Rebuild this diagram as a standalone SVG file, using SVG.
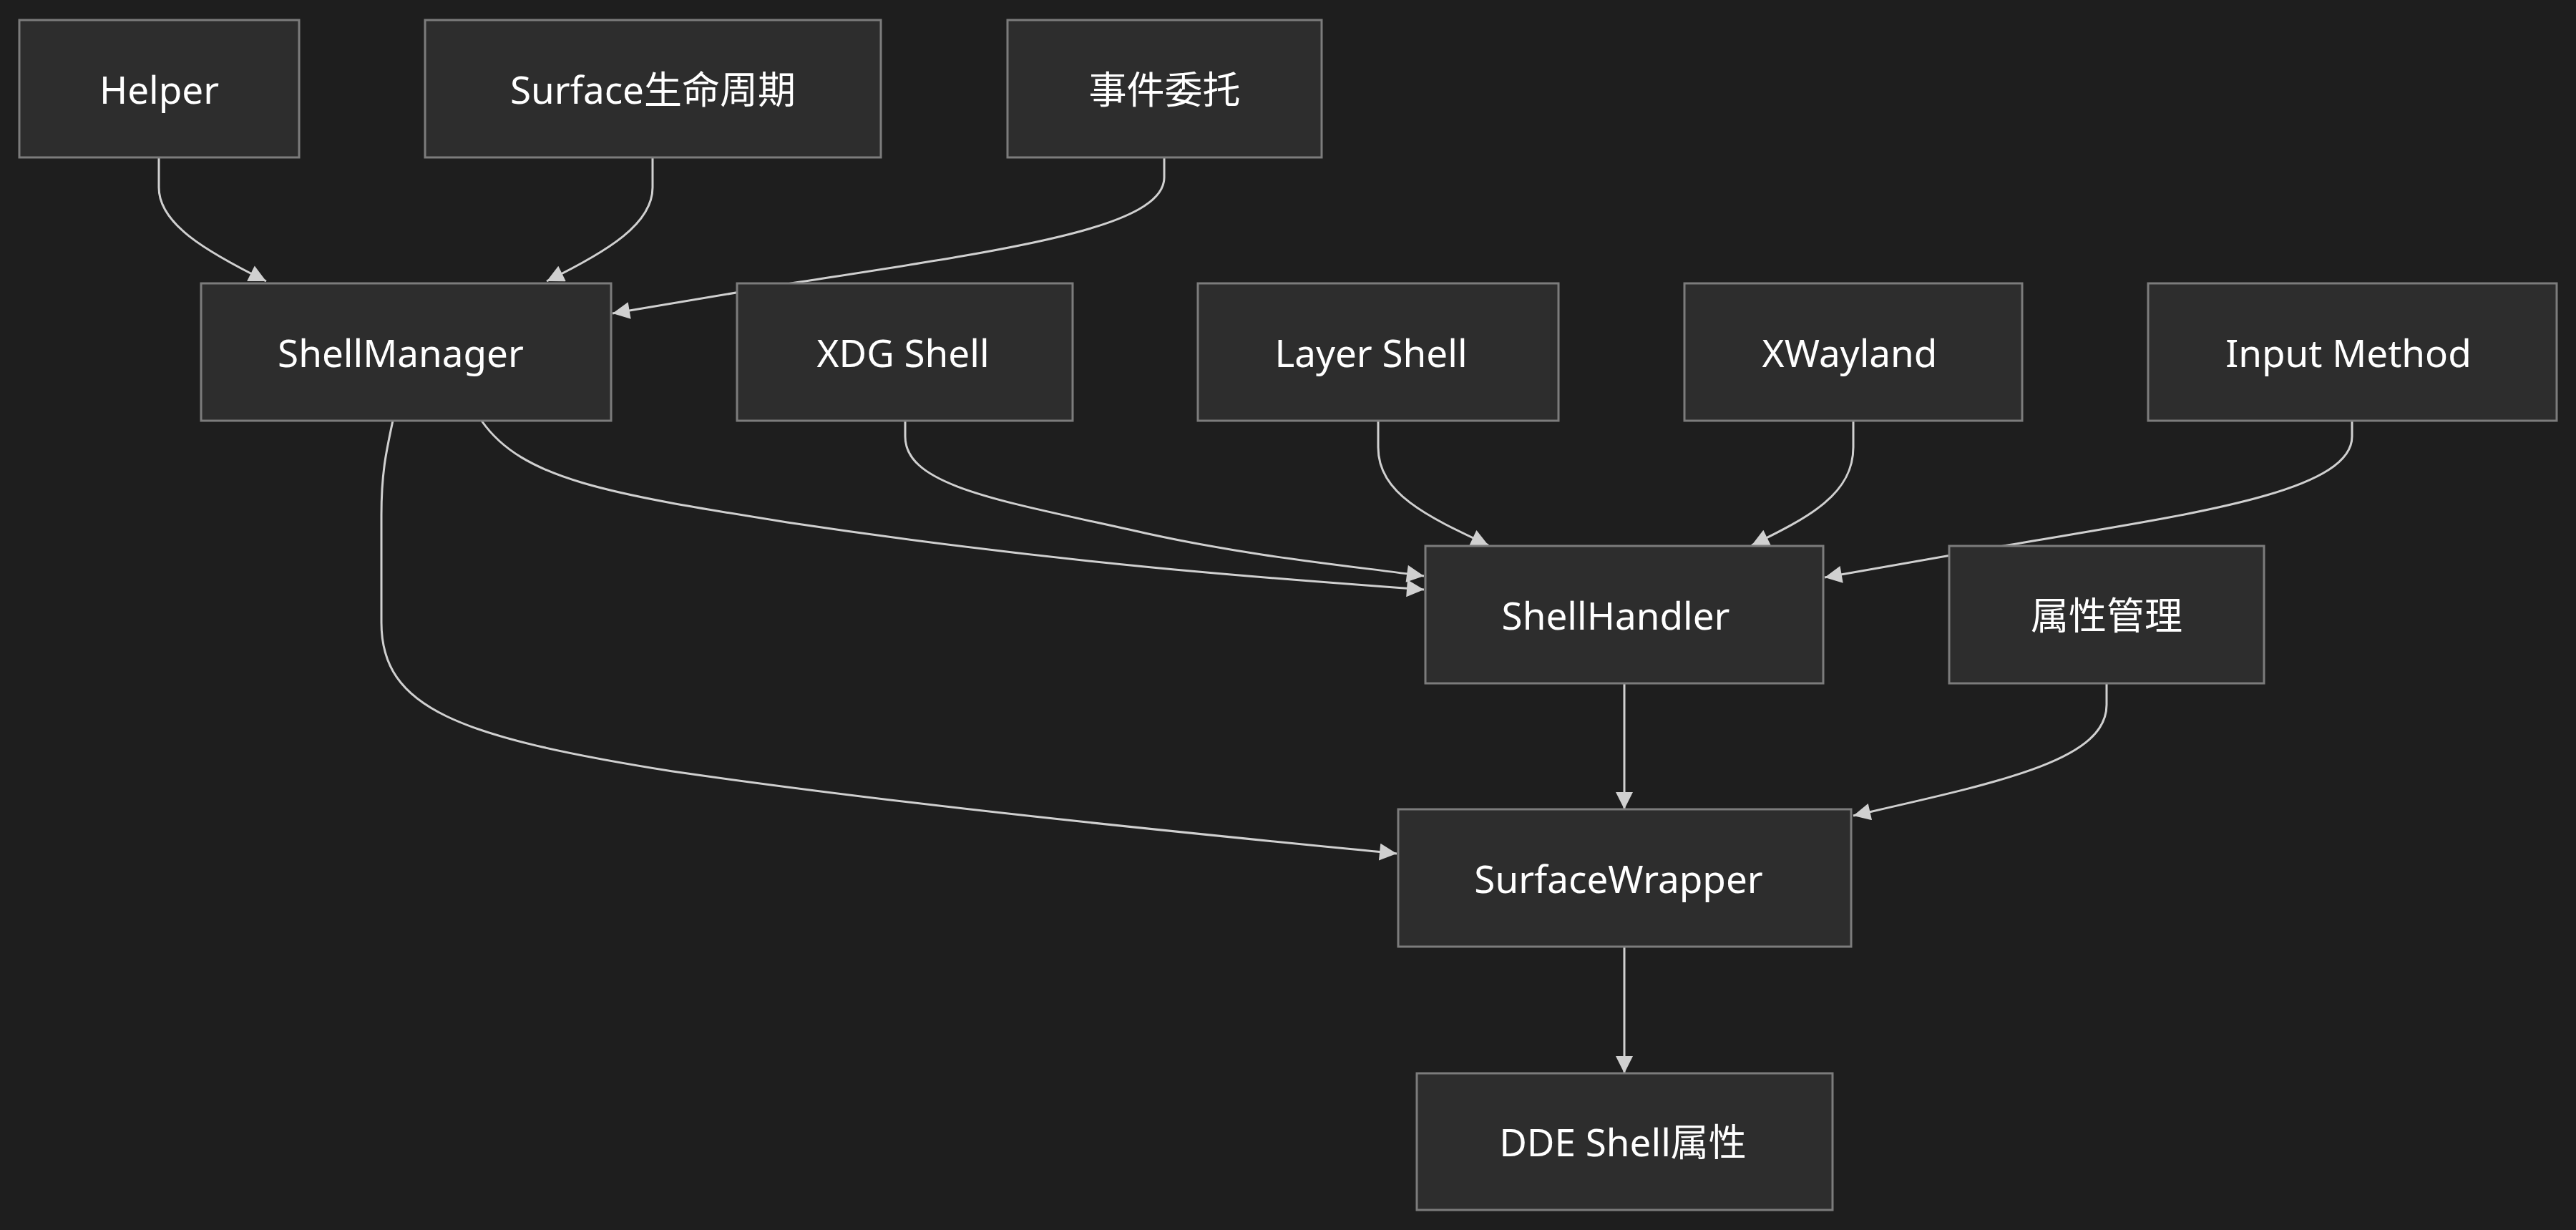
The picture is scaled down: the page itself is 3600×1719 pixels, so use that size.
<svg xmlns="http://www.w3.org/2000/svg" width="3600" height="1719" viewBox="0 0 3600 1719">
<defs>
<style>
.node rect{fill:#2d2d2d;stroke:#7c7c7c;stroke-width:3}
.node text{fill:#ffffff;font-family:"Noto Sans","Noto Sans CJK SC",sans-serif;font-size:53px;text-anchor:middle;dominant-baseline:central}
.edge{fill:none;stroke:#d0d0d0;stroke-width:3;marker-end:url(#arr)}
</style>
<marker id="arr" viewBox="0 0 10 10" refX="10" refY="5" markerUnits="userSpaceOnUse" markerWidth="28" markerHeight="24" orient="auto">
<path d="M0,0 L10,5 L0,10 z" fill="#d0d0d0"/>
</marker>
</defs>
<rect width="3600" height="1719" fill="#1e1e1e"/>
<g id="connectors">
<path class="edge" d="M222,220 L222,262 C222,312 285,350 372,393"/>
<path class="edge" d="M912,220 L912,262 C912,312 852,350 764,393"/>
<path class="edge" d="M1627,220 L1627,248 C1627,320 1400,350 1100,397 L856,438"/>
<path class="edge" d="M673,588 C730,670 850,690 1100,730 C1500,790 1800,810 1990,824"/>
<path class="edge" d="M1265,588 L1265,610 C1265,680 1400,700 1600,745 C1750,778 1880,790 1990,805"/>
<path class="edge" d="M1926,588 L1926,625 C1926,690 1995,722 2080,762"/>
<path class="edge" d="M2590,588 L2590,625 C2590,690 2530,722 2448,762"/>
<path class="edge" d="M3287,588 L3287,610 C3287,690 3050,720 2800,763 L2550,807"/>
<path class="edge" d="M549,588 C540,630 533,660 533,720 L533,870 C533,990 640,1030 940,1078 C1300,1130 1700,1168 1952,1193"/>
<path class="edge" d="M2270,955 L2270,1131"/>
<path class="edge" d="M2944,955 L2944,985 C2944,1062 2800,1092 2590,1140"/>
<path class="edge" d="M2270,1323 L2270,1500"/>
</g>
<g id="Helper" class="node"><rect x="27" y="28" width="391" height="192"/><text x="222.5" y="124">Helper</text></g>
<g id="SurfaceLifecycle" class="node"><rect x="594" y="28" width="637" height="192"/><text x="912.5" y="124">Surface生命周期</text></g>
<g id="EventDelegate" class="node"><rect x="1408" y="28" width="439" height="192"/><text x="1627.5" y="124">事件委托</text></g>
<g id="ShellManager" class="node"><rect x="281" y="396" width="573" height="192"/><text x="560" y="492">ShellManager</text></g>
<g id="XDGShell" class="node"><rect x="1030" y="396" width="469" height="192"/><text x="1262" y="492">XDG Shell</text></g>
<g id="LayerShell" class="node"><rect x="1674" y="396" width="504" height="192"/><text x="1916" y="492">Layer Shell</text></g>
<g id="XWayland" class="node"><rect x="2354" y="396" width="472" height="192"/><text x="2585" y="492">XWayland</text></g>
<g id="InputMethod" class="node"><rect x="3002" y="396" width="571" height="192"/><text x="3282" y="492">Input Method</text></g>
<g id="ShellHandler" class="node"><rect x="1992" y="763" width="556" height="192"/><text x="2258" y="859">ShellHandler</text></g>
<g id="PropertyMgmt" class="node"><rect x="2724" y="763" width="440" height="192"/><text x="2944" y="859">属性管理</text></g>
<g id="SurfaceWrapper" class="node"><rect x="1954" y="1131" width="633" height="192"/><text x="2262" y="1227">SurfaceWrapper</text></g>
<g id="DDEShellProps" class="node"><rect x="1980" y="1500" width="581" height="191"/><text x="2268" y="1595.5">DDE Shell属性</text></g>
</svg>
